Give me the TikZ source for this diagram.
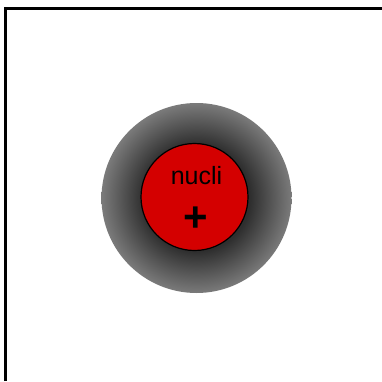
\documentclass[tikz,border=0pt]{standalone}
\usepackage{fontspec}
\setmainfont{Liberation Sans}
\usetikzlibrary{calc}
\definecolor{nucleusred}{RGB}{212, 0, 0}
\pgfdeclareradialshading{electroncloud}{\pgfpoint{0bp}{0bp}}{%
  color(0bp)=(black!82); color(14bp)=(black!82);
  color(25bp)=(black!52); color(50bp)=(black!52)}

\begin{document}
\begin{tikzpicture}[x=1pt, y=1pt]
  \useasboundingbox (0,0) rectangle (382,381);
  % Frame
  \draw[line width=3pt] (5.5,0) -- (5.5,372.5) -- (382,372.5);

  % Electron cloud
  \coordinate (centre) at (196.5,183);
  \shade[shading=electroncloud] (centre) circle (95pt);

  % Nucleus
  \node[circle, draw, fill=nucleusred, line width=1.2pt, inner sep=0pt,
        minimum size=107pt] (nucleus) at (194.5,184) {};
  \node[anchor=base, font=\fontsize{25}{25}\selectfont] (label) at (196.5,197) {nucli};
  \node[font=\fontsize{42}{42}\selectfont\bfseries] (charge) at (196,162) {+};
\end{tikzpicture}
\end{document}
